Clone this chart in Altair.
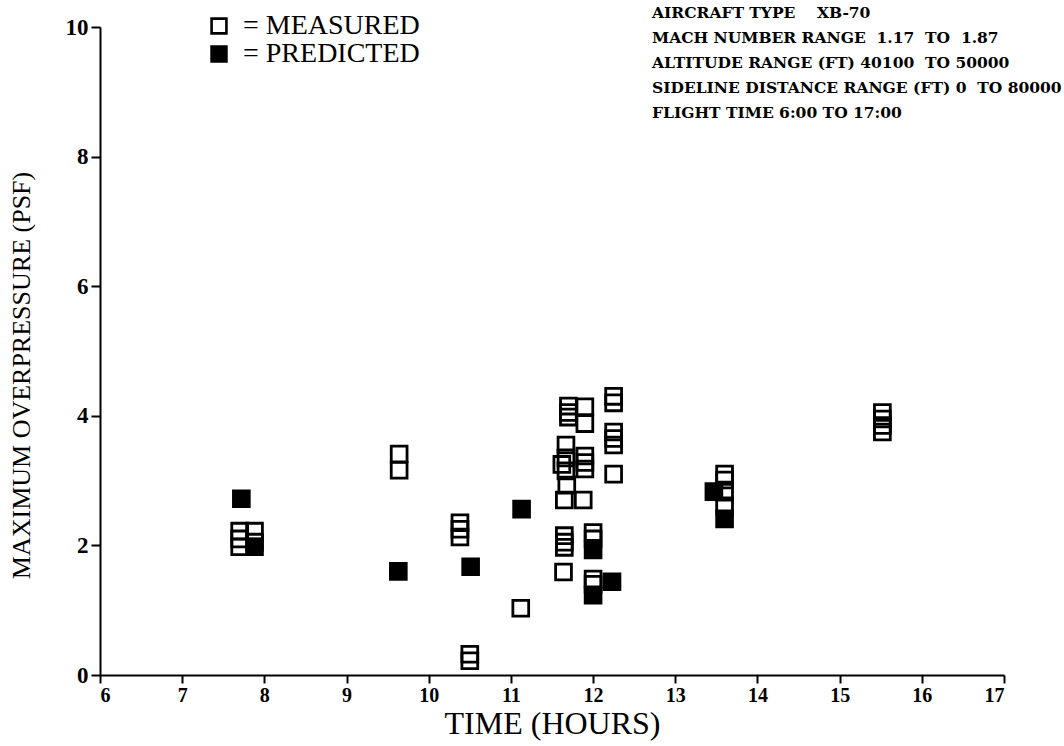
import altair as alt
import pandas as pd

# Measured (open squares)
measured_x = [7.70, 7.70, 7.70, 7.88, 7.88,
              9.64, 9.64,
              10.38, 10.38, 10.38,
              10.50, 10.50,
              11.12,
              11.70, 11.70, 11.70, 11.90, 11.90,
              11.67, 11.67, 11.67, 11.62,
              11.90, 11.90, 11.90,
              11.68, 11.65, 11.88,
              11.65, 11.65, 11.65, 11.64,
              12.00, 12.00, 12.00, 12.00,
              12.25, 12.25, 12.25, 12.25, 12.25, 12.25,
              13.60, 13.60, 13.60, 13.60,
              15.52, 15.52, 15.52, 15.52]
measured_y = [2.22, 2.10, 1.98, 2.22, 2.05,
              3.41, 3.16,
              2.35, 2.25, 2.13,
              0.32, 0.22,
              1.03,
              4.15, 4.05, 3.98, 4.14, 3.88,
              3.55, 3.35, 3.15, 3.25,
              3.38, 3.28, 3.18,
              2.93, 2.70, 2.70,
              2.15, 2.05, 1.97, 1.59,
              2.20, 2.10, 1.48, 1.40,
              4.30, 4.20, 3.75, 3.65, 3.55, 3.10,
              3.10, 3.01, 2.82, 2.61,
              4.05, 3.95, 3.85, 3.75]

# Predicted (filled squares)
predicted_x = [7.72, 7.88, 9.63, 10.51, 11.13, 12.00, 12.00, 12.23, 13.47, 13.60]
predicted_y = [2.72, 1.98, 1.60, 1.67, 2.56, 1.93, 1.23, 1.44, 2.83, 2.41]

series_names = ["MEASURED", "PREDICTED"]
x_ticks = list(range(6, 18))
y_ticks = [0, 2, 4, 6, 8, 10]

info_lines = [
    "AIRCRAFT TYPE\u00a0\u00a0\u00a0\u00a0XB-70",
    "MACH NUMBER RANGE\u00a0\u00a01.17\u00a0\u00a0TO\u00a0\u00a01.87",
    "ALTITUDE RANGE (FT) 40100\u00a0\u00a0TO 50000",
    "SIDELINE DISTANCE RANGE (FT) 0\u00a0\u00a0TO 80000",
    "FLIGHT TIME 6:00 TO 17:00",
]

df = pd.concat([
    pd.DataFrame({"time": measured_x, "op": measured_y, "type": series_names[0]}),
    pd.DataFrame({"time": predicted_x, "op": predicted_y, "type": series_names[1]}),
], ignore_index=True)

SERIF = "Liberation Serif"
axis_common = dict(
    grid=False, domainColor="black", domainWidth=2, tickColor="black", tickWidth=2,
    labelFont=SERIF, labelFontWeight="bold",
    labelColor="black", titleFont=SERIF,
    titleFontWeight="normal", titleColor="black",
)

points = alt.Chart(df).mark_point(
    shape="square", size=250, stroke="black", strokeWidth=2.8, opacity=1
).encode(
    x=alt.X("time:Q", scale=alt.Scale(domain=[6, 17], nice=False, zero=False),
            axis=alt.Axis(values=x_ticks, title="TIME (HOURS)", titlePadding=3,
                          tickSize=8, labelPadding=2,
                          labelFontSize=20, titleFontSize=32, **axis_common)),
    y=alt.Y("op:Q", scale=alt.Scale(domain=[0, 10], nice=False),
            axis=alt.Axis(values=y_ticks, title="MAXIMUM OVERPRESSURE (PSF)", titlePadding=31,
                          tickSize=9, labelPadding=3,
                          labelFontSize=23, titleFontSize=26, titleY=348, **axis_common)),
    fill=alt.Fill("type:N",
                  scale=alt.Scale(domain=series_names, range=["transparent", "black"]),
                  legend=alt.Legend(title=None, orient="none", legendX=105, legendY=-15,
                                    labelExpr="'= ' + datum.label", labelLimit=0,
                                    symbolType="square", symbolSize=220,
                                    symbolStrokeColor="black", symbolStrokeWidth=2.6,
                                    labelFont=SERIF, labelFontSize=28, labelColor="black",
                                    labelOffset=10, rowPadding=0, padding=0)),
    order=alt.Order("type:N"),
)

info = alt.Chart(pd.DataFrame({"t": ["\n".join(info_lines)]})).mark_text(
    align="left", baseline="top", font="DejaVu Serif", fontWeight="bold", fontSize=15.5,
    lineBreak="\n", lineHeight=25, color="black"
).encode(x=alt.value(552), y=alt.value(-21), text="t:N")

chart = alt.layer(points, info).properties(
    width=904, height=648,
    autosize=alt.AutoSizeParams(type="none"),
    padding={"left": 100, "top": 27, "right": 60, "bottom": 71},
).configure_view(stroke=None)

chart.save("out.html", embed_options={"renderer": "svg", "actions": False})
